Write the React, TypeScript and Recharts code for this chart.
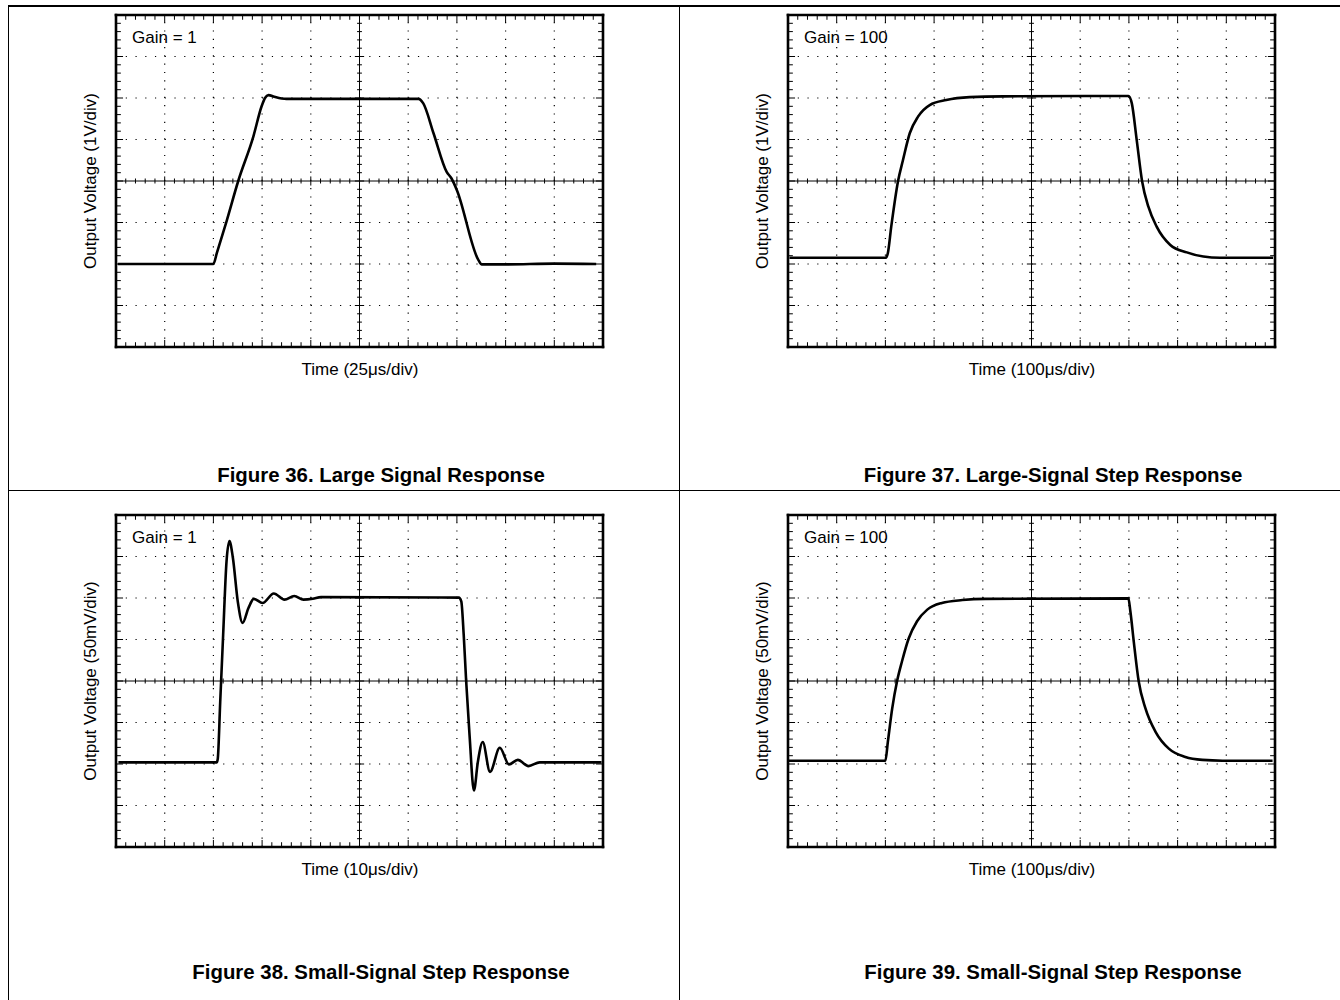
import React from 'react';
import { LineChart, Line, XAxis, YAxis, ReferenceLine } from 'recharts';

const FONT = '"Liberation Sans", Arial, Helvetica, sans-serif';

// all values are in screen divisions: time 0..10, voltage 0..8 (centre line = 4)
const fig36Time = [0.04, 2.0, 2.07, 2.27, 2.51, 2.82, 2.99, 3.06, 3.13, 3.25, 3.4, 3.5, 4.5, 6.21, 6.31, 6.52, 6.79, 6.89, 7.0, 7.44, 7.51, 8.0, 9.0, 9.86];
const fig36Volt = [2.0, 2.0, 2.26, 3.03, 4.0, 5.07, 5.8, 6.0, 6.07, 6.03, 5.99, 5.98, 5.98, 5.98, 5.87, 5.15, 4.22, 4.06, 3.78, 2.1, 1.99, 1.99, 2.01, 2.0];

const fig37Time = [0.03, 2.01, 2.05, 2.12, 2.26, 2.36, 2.5, 2.67, 2.91, 3.25, 3.73, 4.42, 6.99, 7.06, 7.16, 7.27, 7.4, 7.57, 7.85, 8.19, 8.53, 8.87, 9.96];
const fig37Volt = [2.15, 2.15, 2.26, 2.9, 4.0, 4.5, 5.15, 5.55, 5.83, 5.95, 6.02, 6.04, 6.05, 5.87, 4.99, 4.0, 3.38, 2.9, 2.46, 2.28, 2.18, 2.15, 2.15];

const fig38Time = [0.05, 2.07, 2.09, 2.14, 2.2, 2.27, 2.33, 2.4, 2.5, 2.6, 2.72, 2.83, 3.01, 3.24, 3.46, 3.66, 3.85, 4.04, 4.21, 7.04, 7.09, 7.14, 7.19, 7.26, 7.35, 7.43, 7.53, 7.68, 7.88, 8.07, 8.25, 8.47, 8.7, 9.97];
const fig38Volt = [2.04, 2.04, 2.13, 3.5, 5.11, 6.89, 7.37, 6.97, 5.92, 5.4, 5.76, 5.98, 5.88, 6.11, 5.96, 6.05, 5.96, 5.98, 6.02, 6.01, 5.92, 5.11, 4.0, 2.69, 1.36, 2.05, 2.53, 1.81, 2.39, 1.99, 2.1, 1.95, 2.04, 2.04];

const fig39Time = [0.02, 2.0, 2.05, 2.14, 2.24, 2.34, 2.48, 2.65, 2.86, 3.16, 3.58, 4.05, 6.99, 7.03, 7.1, 7.2, 7.34, 7.55, 7.82, 8.16, 8.51, 8.92, 9.95];
const fig39Volt = [2.08, 2.08, 2.53, 3.34, 4.0, 4.47, 5.03, 5.44, 5.72, 5.88, 5.95, 5.98, 5.99, 5.68, 4.95, 4.0, 3.34, 2.77, 2.37, 2.17, 2.1, 2.08, 2.08];

const titles = [
  'Figure 36. Large Signal Response',
  'Figure 37. Large-Signal Step Response',
  'Figure 38. Small-Signal Step Response',
  'Figure 39. Small-Signal Step Response',
];
const gains = ['Gain = 1', 'Gain = 100', 'Gain = 1', 'Gain = 100'];
const yLabels = ['Output Voltage (1V/div)', 'Output Voltage (1V/div)', 'Output Voltage (50mV/div)', 'Output Voltage (50mV/div)'];
const xLabels = ['Time (25μs/div)', 'Time (100μs/div)', 'Time (10μs/div)', 'Time (100μs/div)'];

const majorX = [1, 2, 3, 4, 5, 6, 7, 8, 9];
const majorY = [1, 2, 3, 4, 5, 6, 7];
const minorX = Array.from({ length: 49 }, (_, i) => (i + 1) / 5);
const minorY = Array.from({ length: 39 }, (_, i) => (i + 1) / 5);

const isMajor = (v: number) => Math.abs(v - Math.round(v)) < 1e-6;

function Scope({ time, volt, gain, yLabel, xLabel, title, titleY }: any) {
  const data = time.map((t: number, i: number) => ({ t, v: volt[i] }));
  const tk = { stroke: '#000', strokeWidth: 1, ifOverflow: 'visible' as const };

  return (
    <LineChart width={672} height={500} data={data} margin={{ top: 15, right: 69, bottom: 153, left: 116 }}>
      <XAxis type="number" dataKey="t" domain={[0, 10]} hide />
      <YAxis type="number" domain={[0, 8]} hide />

      {/* dotted graticule */}
      {majorX.filter((x) => x !== 5).map((x) => (
        <ReferenceLine key={'gx' + x} x={x} stroke="#000" strokeWidth={1.2} strokeDasharray="1.2 7.1" />
      ))}
      {majorY.filter((y) => y !== 4).map((y) => (
        <ReferenceLine key={'gy' + y} y={y} stroke="#000" strokeWidth={1.2} strokeDasharray="1.2 8.54" />
      ))}

      {/* ticks on the frame, pointing inward */}
      {minorX.map((x) => {
        const h = isMajor(x) ? 0.17 : 0.115;
        return (
          <React.Fragment key={'bx' + x}>
            <ReferenceLine {...tk} segment={[{ x, y: 0 }, { x, y: h }]} />
            <ReferenceLine {...tk} segment={[{ x, y: 8 - h }, { x, y: 8 }]} />
          </React.Fragment>
        );
      })}
      {minorY.map((y) => {
        const w = isMajor(y) ? 0.145 : 0.1;
        return (
          <React.Fragment key={'by' + y}>
            <ReferenceLine {...tk} segment={[{ x: 0, y }, { x: w, y }]} />
            <ReferenceLine {...tk} segment={[{ x: 10 - w, y }, { x: 10, y }]} />
          </React.Fragment>
        );
      })}

      {/* centre crosshair with its ticks */}
      <ReferenceLine x={5} stroke="#000" strokeWidth={1} />
      <ReferenceLine y={4} stroke="#000" strokeWidth={1} />
      {minorX.map((x) => {
        const h = isMajor(x) ? 0.11 : 0.06;
        return <ReferenceLine key={'cx' + x} {...tk} segment={[{ x, y: 4 - h }, { x, y: 4 + h }]} />;
      })}
      {minorY.map((y) => {
        const w = isMajor(y) ? 0.095 : 0.05;
        return <ReferenceLine key={'cy' + y} {...tk} segment={[{ x: 5 - w, y }, { x: 5 + w, y }]} />;
      })}

      {/* heavy frame */}
      <ReferenceLine x={0} stroke="#000" strokeWidth={2.6} strokeLinecap="square" ifOverflow="visible" />
      <ReferenceLine x={10} stroke="#000" strokeWidth={2.6} strokeLinecap="square" ifOverflow="visible" />
      <ReferenceLine y={0} stroke="#000" strokeWidth={2.6} strokeLinecap="square" ifOverflow="visible" />
      <ReferenceLine y={8} stroke="#000" strokeWidth={2.6} strokeLinecap="square" ifOverflow="visible" />

      <Line dataKey="v" type="monotone" stroke="#000" strokeWidth={2.6} dot={false} isAnimationActive={false} />

      <text x={132} y={43} fontSize={17} fontFamily={FONT} fill="#000">{gain}</text>
      <text transform="translate(96,181) rotate(-90)" textAnchor="middle" fontSize={17} fontFamily={FONT} fill="#000">{yLabel}</text>
      <text x={360} y={375} textAnchor="middle" fontSize={17} fontFamily={FONT} fill="#000">{xLabel}</text>
      <text x={381} y={titleY} textAnchor="middle" fontSize={20.4} fontWeight="bold" fontFamily={FONT} fill="#000">{title}</text>
    </LineChart>
  );
}

const rule = { position: 'absolute' as const, background: '#000' };

export default function App() {
  return (
    <div style={{ position: 'absolute', left: 0, top: 0, width: 1340, height: 1000, background: '#fff', overflow: 'hidden' }}>
      <div style={{ position: 'absolute', left: 0, top: 0 }}>
        <Scope time={fig36Time} volt={fig36Volt} gain={gains[0]} yLabel={yLabels[0]} xLabel={xLabels[0]} title={titles[0]} titleY={482} />
      </div>
      <div style={{ position: 'absolute', left: 672, top: 0 }}>
        <Scope time={fig37Time} volt={fig37Volt} gain={gains[1]} yLabel={yLabels[1]} xLabel={xLabels[1]} title={titles[1]} titleY={482} />
      </div>
      <div style={{ position: 'absolute', left: 0, top: 500 }}>
        <Scope time={fig38Time} volt={fig38Volt} gain={gains[2]} yLabel={yLabels[2]} xLabel={xLabels[2]} title={titles[2]} titleY={479} />
      </div>
      <div style={{ position: 'absolute', left: 672, top: 500 }}>
        <Scope time={fig39Time} volt={fig39Volt} gain={gains[3]} yLabel={yLabels[3]} xLabel={xLabels[3]} title={titles[3]} titleY={479} />
      </div>

      <div style={{ ...rule, left: 8, top: 5, width: 1332, height: 1.5 }} />
      <div style={{ ...rule, left: 7.5, top: 5, width: 1.5, height: 995 }} />
      <div style={{ ...rule, left: 678.5, top: 5, width: 1.5, height: 995 }} />
      <div style={{ ...rule, left: 8, top: 489.5, width: 1332, height: 1.5 }} />
    </div>
  );
}
